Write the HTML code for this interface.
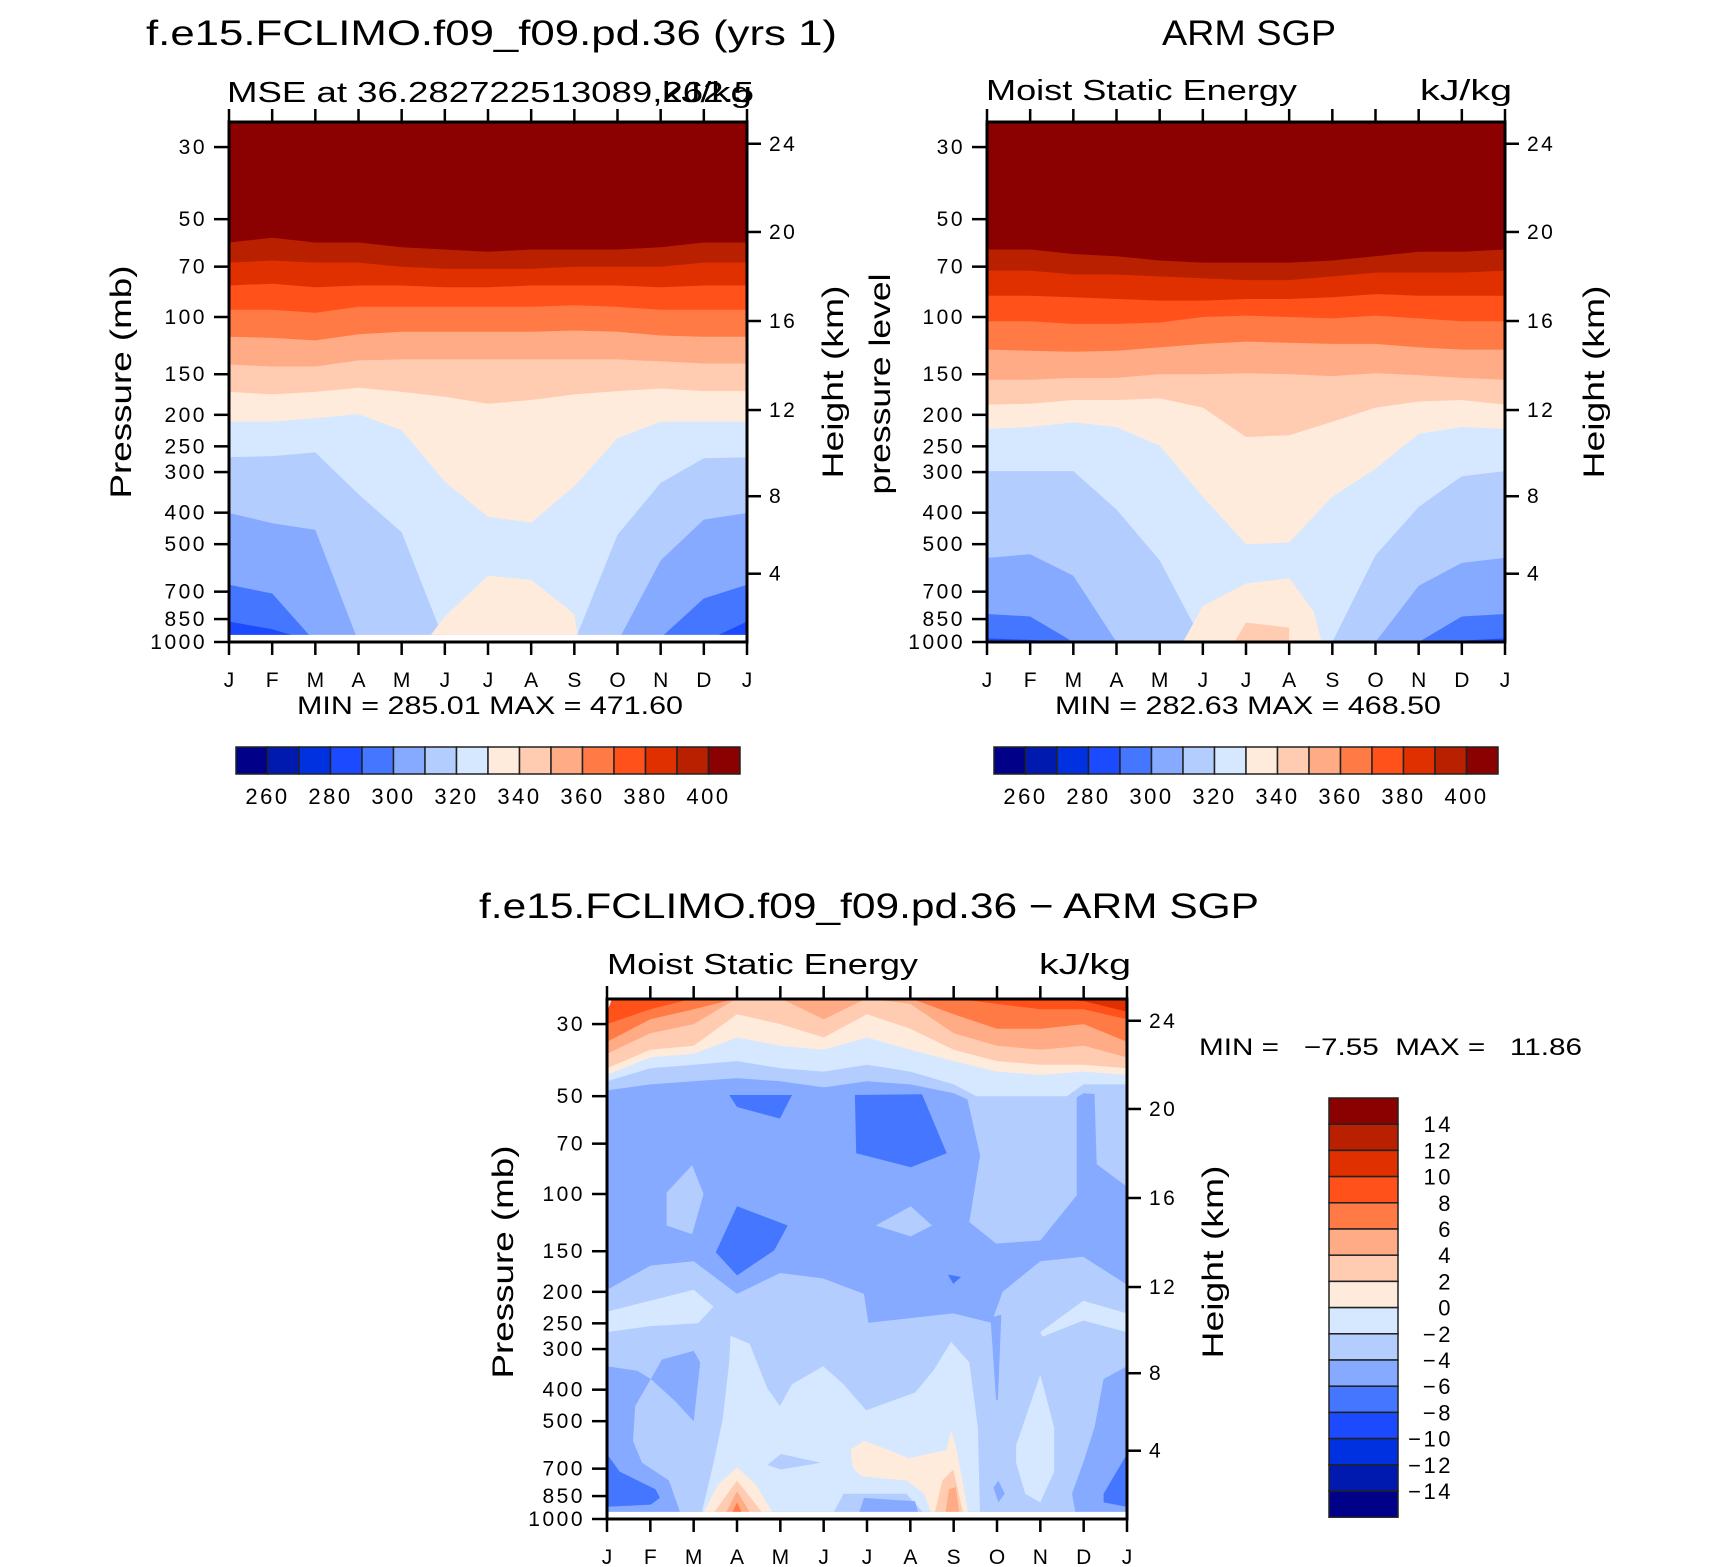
<!DOCTYPE html>
<html><head><meta charset="utf-8"><style>
html,body{margin:0;padding:0;background:#fff}
svg{display:block;font-family:"Liberation Sans",sans-serif}
</style></head><body>
<svg id="fig" xmlns="http://www.w3.org/2000/svg" width="1710" height="1567" viewBox="0 0 1710 1567">
<rect width="1710" height="1567" fill="#fff"/>
<text x="146" y="45" font-size="35" textLength="691" lengthAdjust="spacingAndGlyphs">f.e15.FCLIMO.f09_f09.pd.36 (yrs 1)</text>
<text x="227" y="102" font-size="29" textLength="527" lengthAdjust="spacingAndGlyphs">MSE at 36.282722513089,262.5</text>
<text x="662" y="102" font-size="29" textLength="90" lengthAdjust="spacingAndGlyphs">kJ/kg</text>
<text transform="translate(131,382) rotate(-90)" font-size="30" text-anchor="middle" textLength="233" lengthAdjust="spacingAndGlyphs">Pressure (mb)</text>
<text transform="translate(843,382) rotate(-90)" font-size="30" text-anchor="middle" textLength="193" lengthAdjust="spacingAndGlyphs">Height (km)</text>
<text x="297" y="714" font-size="25" textLength="386" lengthAdjust="spacingAndGlyphs">MIN = 285.01 MAX = 471.60</text>

<text x="1162" y="45" font-size="35" textLength="174" lengthAdjust="spacingAndGlyphs">ARM SGP</text>
<text x="986" y="100" font-size="29" textLength="311" lengthAdjust="spacingAndGlyphs">Moist Static Energy</text>
<text x="1420" y="100" font-size="29" textLength="92" lengthAdjust="spacingAndGlyphs">kJ/kg</text>
<text transform="translate(890,384) rotate(-90)" font-size="30" text-anchor="middle" textLength="221" lengthAdjust="spacingAndGlyphs">pressure level</text>
<text transform="translate(1604,382) rotate(-90)" font-size="30" text-anchor="middle" textLength="193" lengthAdjust="spacingAndGlyphs">Height (km)</text>
<text x="1055" y="714" font-size="25" textLength="386" lengthAdjust="spacingAndGlyphs">MIN = 282.63 MAX = 468.50</text>

<text x="479" y="918" font-size="35" textLength="780" lengthAdjust="spacingAndGlyphs">f.e15.FCLIMO.f09_f09.pd.36 − ARM SGP</text>
<text x="607" y="974" font-size="29" textLength="311" lengthAdjust="spacingAndGlyphs">Moist Static Energy</text>
<text x="1039" y="974" font-size="29" textLength="92" lengthAdjust="spacingAndGlyphs">kJ/kg</text>
<text transform="translate(513,1262) rotate(-90)" font-size="30" text-anchor="middle" textLength="233" lengthAdjust="spacingAndGlyphs">Pressure (mb)</text>
<text transform="translate(1223,1262) rotate(-90)" font-size="30" text-anchor="middle" textLength="193" lengthAdjust="spacingAndGlyphs">Height (km)</text>
<text x="1199" y="1055" font-size="24" xml:space="preserve" textLength="383" lengthAdjust="spacingAndGlyphs">MIN =   −7.55  MAX =   11.86</text>
</svg>
<script>
const NS='http://www.w3.org/2000/svg';
const svg=document.getElementById('fig');
const palette=['#000088','#001aaf','#0031e0','#1c4bff','#4576ff','#85aaff','#b3cdff','#d6e8ff','#ffebdb','#ffccb2','#ffab85','#ff7a45','#ff5119','#e03000','#b82000','#8b0000'];
const monthLabels=['J','F','M','A','M','J','J','A','S','O','N','D','J'];
const pressureTicks=[30,50,70,100,150,200,250,300,400,500,700,850,1000];
const heightTicks=[4,8,12,16,20,24];
const fullBarLabels=['260','280','300','320','340','360','380','400'];
const diffBarLabels=['14','12','10','8','6','4','2','0','−2','−4','−6','−8','−10','−12','−14'];

const m1Edge390=[59,57,59,59,61,62,63,62,62,62,61,59,59];
const m1Edge380=[68,67,68,68,70,71,71,71,70,70,70,68,68];
const m1Edge370=[80,79,81,80,80,81,81,80,80,80,81,80,80];
const m1Edge360=[95,95,97,93,93,93,93,93,92,93,95,95,95];
const m1Edge350=[115,116,118,113,111,111,111,111,110,111,114,115,115];
const m1Edge340=[140,142,142,136,135,135,135,135,135,135,137,139,139];
const m1Edge330=[170,173,170,165,170,176,185,180,173,169,166,169,169];
const m1Edge320=[210,210,205,199,223,321,412,429,332,236,210,210,210];
const m1Edge310=[270,268,261,351,460,1000,1000,1000,1000,468,324,272,270];
const m1Edge300=[401,431,452,1000,1000,1000,1000,1000,1000,1000,561,420,401];
const m1Edge290=[667,709,1000,1000,1000,1000,1000,1000,1000,1000,970,735,667];
const m1Edge280=[865,914,1000,1000,1000,1000,1000,1000,1000,1000,1000,1000,865];
const m1BlobMonths=[4.55,5,6,7,8,8.1];
const m1BlobP=[1000,835,625,644,820,1000];

const m2Edge390=[62,62,64,65,67,68,68,68,67,65,63,63,62];
const m2Edge380=[72,72,74,74,75,76,77,77,75,73,73,73,72];
const m2Edge370=[86,86,87,88,89,89,88,88,87,85,86,86,86];
const m2Edge360=[103,103,105,105,104,100,99,100,101,99,101,103,103];
const m2Edge350=[126,127,128,127,124,121,119,120,121,121,124,126,126];
const m2Edge340=[156,156,154,154,150,150,149,150,152,149,151,154,156];
const m2Edge330=[186,185,180,180,178,190,234,231,210,190,182,180,186];
const m2Edge320=[221,218,211,218,249,357,500,494,357,293,229,218,221];
const m2Edge310=[298,298,298,391,561,1000,1000,1000,1000,541,384,309,298];
const m2Edge300=[551,537,625,1000,1000,1000,1000,1000,1000,1000,671,571,551];
const m2Edge290=[820,835,1000,1000,1000,1000,1000,1000,1000,1000,1000,835,820];
const m2Edge280=[975,985,1000,1000,1000,1000,1000,1000,1000,1000,1000,990,975];
const m2BlobMonths=[4.54,5,6,7,7.57,7.75];
const m2BlobP=[1000,776,660,637,805,1000];
const m2Blob2Months=[5.73,6,7,7];
const m2Blob2P=[1000,871,903,1000];

const d3EdgeM4=[48,46,45,44,45,47,45,46,49,56,59,49,50];
const d3EdgeM2=[45,41,40,39,41,42,40,42,46,54,57,46,46];
const d3Edge0=[43,38,37,33,35,36,33,36,39,42,43,42,43];
const d3Edge2=[41,36,35,28,30,33,28,31,36,39,40,40,41];
const d3Edge4=[37,32,30,25,25,29,25,26,32,35,36,35,38];
const d3Edge6=[34,29,27,25,25,25,25,25,28,31,31,30,34];
const d3Edge8=[30,27,25,25,25,25,25,25,25,26,27,27,29];
const d3Edge10=[25,25,25,25,25,25,25,25,25,25,25,25.5,27.5];
const d3Patches=[
 [6,[8.30,8.61,8.36,8.98,10.0,10.84,10.84,10.03],[50,76,122,142,139,101,50,50]],
 [6,[11.25,12,12,11.3],[49,49,95,81]],
 [6,[1.375,1.965,2.23,1.965,1.375],[99,81.5,100,133,125]],
 [6,[6.2,7.01,7.5,7.01],[125,109,125,135]],
 [4,[2.82,4.27,3.99,3.0],[49.6,49.6,58.6,54]],
 [4,[5.72,7.27,7.84,7.01,5.75],[49.6,49.3,74.9,82.7,74.9]],
 [4,[3.0,4.17,3.86,3.0,2.51],[109,125,149,178,151]],
 [4,[7.87,8.17,7.99],[177,180,189]],
 [6,[0,1.01,2.0,3.0,3.99,4.99,5.93,6.03,7.99,8.87,9.13,10,10.99,12,12,0],[197,166,161,203,175,182,203,249,233,249,200,161,156,190,1000,1000]],
 [5,[8.85,9.1,9.02,8.98],[240,235,430,430]],
 [7,[0,2.0,2.46,2.1,1.01,0],[230,197,222,250,255,266]],
 [7,[10,10.99,12,12,10.99,10.05],[266,213,233,266,245,275]],
 [7,[2.85,3.29,3.70,3.99,4.27,4.99,5.46,5.98,7.11,7.53,7.94,8.36,8.56,8.61,2.15,2.46,2.67,2.82],[273,289,396,449,385,339,385,463,408,350,285,330,523,1000,1000,671,492,330]],
 [5,[0,0.70,1.01,0.65,0.60,0.81,1.43,1.74,0],[339,350,371,449,575,671,761,1000,1000]],
 [4,[0,0.29,1.12,1.22,1.01,0],[631,715,810,861,903,917]],
 [5,[1.01,1.27,2.0,2.15,2.0,1.58],[371,323,304,330,500,435]],
 [5,[12,11.46,11.25,10.99,10.73,10.84,12],[339,371,523,671,836,1000,1000]],
 [4,[12,11.46,11.46,12],[631,836,889,917]],
 [7,[9.44,10,10.32,10.32,10,9.65,9.44],[593,360,523,715,889,836,671]],
 [5,[8.92,9.03,9.18,9.03],[800,761,836,889]],
 [6,[3.70,4.01,4.94,4.01],[682,631,671,704]],
 [8,[2.15,2.56,3.0,3.44,3.91],[1000,785,693,785,1000]],
 [9,[2.36,3.0,3.70],[1000,761,1000]],
 [10,[2.67,3.0,3.39],[1000,822,1000]],
 [11,[2.82,3.0,3.18],[1000,889,1000]],
 [8,[5.62,5.93,6.49,6.96,7.84,7.94,8.07,8.36,7.53,7.32,6.91,5.87,5.67],[612,575,612,651,612,532,612,1000,1000,836,761,739,693]],
 [6,[5.15,5.46,6.91,7.43],[1000,836,836,1000]],
 [5,[5.77,5.93,7.11,7.22],[1000,861,882,1000]],
 [9,[7.53,7.74,7.99,8.25],[1000,761,704,1000]],
 [10,[7.79,7.89,8.05,8.15],[1000,810,797,1000]]
];

function mk(tag,attrs,parent){const e=document.createElementNS(NS,tag);for(const k in attrs)e.setAttribute(k,attrs[k]);(parent||svg).appendChild(e);return e;}
function axes(x0,w,y1){return {x:m=>x0+m*w/12,y:p=>y1-Math.log10(1000/p)*325,x0:x0,w:w,y1:y1,top:y1-520};}
function heightToP(z){z*=1000;if(z<=11000)return 1013.25*Math.pow(1-0.0065*z/288.15,5.2559);if(z<=20000)return 226.32*Math.exp(-(z-11000)/6341.6);return 54.75*Math.pow(1+0.001*(z-20000)/216.65,-34.163);}

function panel(id,a,pBottom){
  const g=mk('g',{});
  
  
  const cp=mk('clipPath',{id:id+'-clip'},g);
  mk('rect',{x:a.x0,y:a.top,width:a.w,height:a.y(pBottom)-a.top},cp);
  const d=mk('g',{'clip-path':'url(#'+id+'-clip)'},g);
  return {g:g,d:d};
}
function polyPts(a,ms,ps){return ms.map((m,i)=>a.x(m).toFixed(1)+','+a.y(ps[i]).toFixed(1)).join(' ');}
function band(a,parent,edge,col,name){
  const ms=edge.map((_,i)=>i).concat([12,0]);const ps=edge.concat([1000,1000]);
  const e=mk('polygon',{points:polyPts(a,ms,ps),fill:palette[col]},parent);
  
  
}
function topBand(a,parent,edge,col,name){
  const ms=[0].concat(edge.map((_,i)=>i)).concat([12]);const ps=[10].concat(edge).concat([10]);
  const e=mk('polygon',{points:polyPts(a,ms,ps),fill:palette[col]},parent);
  
  
}
function patch(a,parent,col,ms,ps,name){
  const e=mk('polygon',{points:polyPts(a,ms,ps),fill:palette[col]||'#fff'},parent);
  
  
}
function frame(id,a,g){
  const x1=a.x0+a.w;
  for(let i=0;i<13;i++){
    const x=a.x(i);
    mk('line',{x1:x,y1:a.top,x2:x,y2:a.top-13,stroke:'#000','stroke-width':2.5},g);
    mk('line',{x1:x,y1:a.y1,x2:x,y2:a.y1+13,stroke:'#000','stroke-width':2.5},g);
    const t=mk('text',{x:x,y:a.y1+45,'font-size':21,'text-anchor':'middle'},g);
    t.textContent=monthLabels[i];
    
    
  }
  pressureTicks.forEach(p=>{
    const y=a.y(p);
    mk('line',{x1:a.x0,y1:y,x2:a.x0-15,y2:y,stroke:'#000','stroke-width':2.5},g);
    const t=mk('text',{x:a.x0-22,y:y+7,'font-size':21,'text-anchor':'end','letter-spacing':2.5},g);
    t.textContent=p;
    
    
  });
  heightTicks.forEach(z=>{
    const y=a.y(heightToP(z));
    mk('line',{x1:x1,y1:y,x2:x1+14,y2:y,stroke:'#000','stroke-width':2.5},g);
    const t=mk('text',{x:x1+22,y:y+7,'font-size':21,'letter-spacing':2.5},g);
    t.textContent=z;
    
    
  });
  const r=mk('rect',{x:a.x0,y:a.top,width:a.w,height:a.y1-a.top,fill:'none',stroke:'#000','stroke-width':3},g);
  
  
}
function hbar(id,x0,y0,bw,bh){
  const g=mk('g',{});
  
  
  palette.forEach((c,i)=>{mk('rect',{x:x0+i*bw,y:y0,width:bw,height:bh,fill:c,stroke:'#222','stroke-width':1.5},g);});
  fullBarLabels.forEach((l,k)=>{
    const t=mk('text',{x:x0+(2*k+1)*bw,y:y0+bh+30,'font-size':22,'text-anchor':'middle','letter-spacing':2.5},g);
    t.textContent=l;
    
    
  });
}

const a1=axes(229,518,642);
const P1=panel('model',a1,950);
mk('rect',{x:a1.x0,y:a1.top,width:a1.w,height:520,fill:palette[15]},P1.d);
[[m1Edge390,14],[m1Edge380,13],[m1Edge370,12],[m1Edge360,11],[m1Edge350,10],[m1Edge340,9],[m1Edge330,8],[m1Edge320,7],[m1Edge310,6],[m1Edge300,5],[m1Edge290,4],[m1Edge280,3]].forEach(b=>band(a1,P1.d,b[0],b[1],'model-contour-band'));
patch(a1,P1.d,8,m1BlobMonths,m1BlobP,'model-summer-surface-band');
frame('model',a1,P1.g);
hbar('model',236,747,31.5,27);

const a2=axes(987,518,642);
const P2=panel('obs',a2,1000);
mk('rect',{x:a2.x0,y:a2.top,width:a2.w,height:520,fill:palette[15]},P2.d);
[[m2Edge390,14],[m2Edge380,13],[m2Edge370,12],[m2Edge360,11],[m2Edge350,10],[m2Edge340,9],[m2Edge330,8],[m2Edge320,7],[m2Edge310,6],[m2Edge300,5],[m2Edge290,4],[m2Edge280,3]].forEach(b=>band(a2,P2.d,b[0],b[1],'obs-contour-band'));
patch(a2,P2.d,8,m2BlobMonths,m2BlobP,'obs-summer-surface-band');
patch(a2,P2.d,9,m2Blob2Months,m2Blob2P,'obs-summer-surface-core');
frame('obs',a2,P2.g);
hbar('obs',994,747,31.5,27);

const a3=axes(607,520,1519);
const P3=panel('diff',a3,950);
mk('rect',{x:a3.x0,y:a3.top,width:a3.w,height:520,fill:palette[5]},P3.d);
[[d3EdgeM4,6],[d3EdgeM2,7],[d3Edge0,8],[d3Edge2,9],[d3Edge4,10],[d3Edge6,11],[d3Edge8,12],[d3Edge10,13]].forEach(b=>topBand(a3,P3.d,b[0],b[1],'diff-upper-band'));
patch(a3,P3.d,-1,[0,0.4,0],[20,20,27.5],'diff-missing-corner');
d3Patches.forEach(s=>patch(a3,P3.d,s[0],s[1],s[2],'diff-contour-patch'));
frame('diff',a3,P3.g);
(function(){
  const g=mk('g',{});
  
  
  const x0=1329,y0=1098,bw=69,bh=26.2;
  for(let i=0;i<16;i++){mk('rect',{x:x0,y:y0+i*bh,width:bw,height:bh,fill:palette[15-i],stroke:'#222','stroke-width':1.5},g);}
  diffBarLabels.forEach((l,k)=>{
    const t=mk('text',{x:1453,y:y0+(k+1)*bh+8,'font-size':22,'text-anchor':'end','letter-spacing':2.5},g);
    t.textContent=l;
    
    
  });
})();
</script>
</body></html>
